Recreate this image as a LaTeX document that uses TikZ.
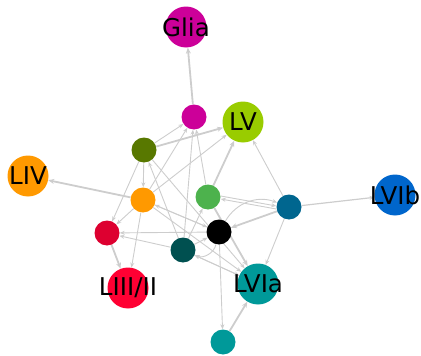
\documentclass[tikz,border=0pt]{standalone}
\usepackage{fontspec}
\setmainfont{DejaVu Sans}
\usetikzlibrary{arrows.meta,backgrounds}
\definecolor{cglia}{RGB}{204,0,153}
\definecolor{clv}{RGB}{153,204,0}
\definecolor{colive}{RGB}{88,120,0}
\definecolor{corange}{RGB}{255,153,0}
\definecolor{cgreen}{RGB}{77,178,77}
\definecolor{cblue}{RGB}{0,102,143}
\definecolor{clvib}{RGB}{0,102,204}
\definecolor{cred}{RGB}{221,0,48}
\definecolor{cliii}{RGB}{255,0,51}
\definecolor{cdteal}{RGB}{0,80,80}
\definecolor{cteal}{RGB}{0,153,153}
\definecolor{cedge}{RGB}{205,205,205}
\tikzset{
  big/.style={circle,draw=none,fill=#1,minimum size=41pt,inner sep=0pt},
  small/.style={circle,draw=none,fill=#1,minimum size=25pt,inner sep=0pt},
  lbl/.style={font=\fontsize{24.5}{24.5}\selectfont,text=black,inner sep=0pt},
  thin/.style={draw=cedge,line width=0.9pt,-{Stealth[length=5pt,width=4pt]}},
  thick/.style={draw=cedge,line width=1.8pt,-{Stealth[length=6pt,width=5pt]}},
}
\begin{document}
\begin{tikzpicture}[x=1pt,y=-1pt]
\useasboundingbox (0,0) rectangle (421,356);
% cell-type nodes
\node[big=cglia]   (glia) at (186,27)  {};
\node[small=cglia] (m)    at (194,117) {};
\node[big=clv]     (lv)   at (243,122) {};
\node[small=colive](o)    at (144,150) {};
\node[big=corange] (liv)  at (28,176)  {};
\node[small=corange](or)  at (143,200) {};
\node[small=cgreen](g)    at (208,197) {};
\node[small=cblue] (b)    at (289,207) {};
\node[big=clvib]   (lvib) at (395,195) {};
\node[small=cred]  (r)    at (107,233) {};
\node[small=black] (k)    at (219,232) {};
\node[small=cdteal](d)    at (183,250) {};
\node[big=cteal]   (lvia) at (258,284) {};
\node[big=cliii]   (liii) at (128,288) {};
\node[small=cteal] (t)    at (223,342) {};
% connections, kept behind the nodes
\begin{scope}[on background layer]
\draw[thick] (m) -- (glia);
\draw[thick] (or) -- (liv);
\draw[thick] (t) -- (lvia);
\draw[thick] (o) -- (lv);
\draw[thick] (g) -- (lv);
\draw[thick] (r) -- (liii);
\draw[thick] (b) -- (k);
\draw[thick] (g) -- (lvia);
\draw[thin,line width=1.2pt] (b) -- (lvib);
\draw[thin] (o) -- (m);
\draw[thin] (or) -- (m);
\draw[thin] (or) -- (lv);
\draw[thin] (d) -- (m);
\draw[thin] (g) -- (m);
\draw[thin] (b) -- (lv);
\draw[thin] (b) -- (lvia);
\draw[thin] ([yshift=-2pt]b.west) -- ([yshift=-2pt]g.east);
\draw[thin] ([yshift=1pt]g.east) -- ([yshift=1pt]b.west);
\draw[thin] (k) to[bend left=40] (b);
\draw[thin] (o) -- (or);
\draw[thin] (o) -- (r);
\draw[thin] (or) -- (r);
\draw[thin] (or) -- (liii);
\draw[thin] (k) -- (r);
\draw[thin] (d) -- (r);
\draw[thin] (d) -- (o);
\draw[thin] (o) -- (lvia);
\draw[thin] (or) -- (k);
\draw[thin] (k) -- (or);
\draw[thin] (k) -- (t);
\draw[thin] (d) -- (lvia);
\draw[thin] (lvia) -- (d);
\draw[thin] (d) -- (g);
\draw[thin] (k) to[bend left=50] (d);
\draw[thin] (or) -- (lvia);
\draw[thin] (d) -- (k);
\end{scope}
% labels on top
\node[lbl] (glia-l) at (glia) {Glia};
\node[lbl] (lv-l)   at (lv)   {LV};
\node[lbl] (liv-l)  at (liv)  {LIV};
\node[lbl] (lvib-l) at (lvib) {LVIb};
\node[lbl] (lvia-l) at (lvia) {LVIa};
\node[lbl] (liii-l) at (liii) {LIII/II};
\end{tikzpicture}
\end{document}
